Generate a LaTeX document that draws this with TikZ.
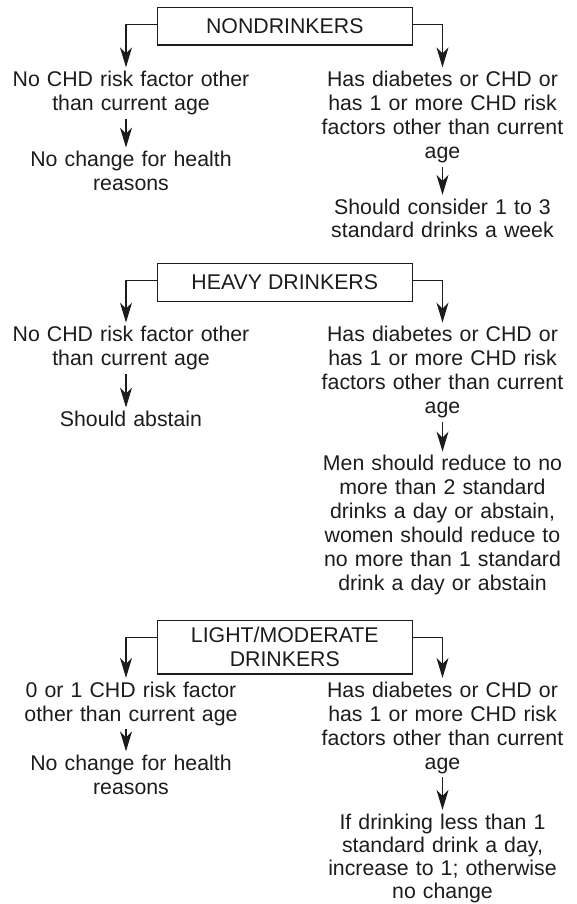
\documentclass[tikz,border=0pt]{standalone}
\usepackage{fontspec}
\setmainfont{Liberation Sans}
\usetikzlibrary{arrows.meta}
\definecolor{ink}{RGB}{30,27,28}

\begin{document}
\begin{tikzpicture}[x=1pt, y=-1pt,
    every node/.style={text=ink, font=\fontsize{21.3pt}{24pt}\selectfont},
    groupbox/.style={draw=ink, line width=1.3pt, minimum width=255pt, inner sep=0pt, align=center},
    advice/.style={anchor=base, align=center, inner xsep=0pt, inner ysep=3.5pt},
    leftcol/.style={advice, text width=246pt},
    rightcol/.style={advice, text width=260pt},
    flow/.style={draw=ink, line width=1.2pt, -{Stealth[length=20pt, width=12pt, inset=6pt]}}]
  \useasboundingbox (0, 0) rectangle (576, 904);

  %% NONDRINKERS
  \node[groupbox, minimum height=37.7pt] (non) at (284.8, 26.2) {NONDRINKERS};
  \node[leftcol] (nonL) at (131, 86.5) {No CHD risk factor other\\than current age};
  \node[leftcol] (nonLout) at (131, 166.7) {No change for health\\reasons};
  \node[rightcol] (nonR) at (442.5, 86.5)
    {Has diabetes or CHD or\\has 1 or more CHD risk\\factors other than current\\age};
  \node[rightcol] (nonRout) at (442.5, 214) {Should consider 1 to 3\\standard drinks a week};

  \draw[flow] ([yshift=-17.5pt]non.north west) -| ([xshift=-5pt]nonL.north);
  \draw[flow] ([yshift=-17.5pt]non.north east) -| (nonR.north);
  \draw[flow] ([xshift=-5pt]nonL.south) -- ([xshift=-5pt]nonLout.north);
  \draw[flow] (nonR.south) -- (nonRout.north);

  %% HEAVY DRINKERS
  \node[groupbox, minimum height=38.4pt] (heavy) at (284.8, 282.5) {HEAVY DRINKERS};
  \node[leftcol] (heavyL) at (131, 341.7) {No CHD risk factor other\\than current age};
  \node[leftcol] (heavyLout) at (131, 426.7) {Should abstain};
  \node[rightcol] (heavyR) at (442.5, 341.7)
    {Has diabetes or CHD or\\has 1 or more CHD risk\\factors other than current\\age};
  \node[rightcol] (heavyRout) at (442.5, 470.7)
    {Men should reduce to no\\more than 2 standard\\drinks a day or abstain,\\women should reduce to\\no more than 1 standard\\drink a day or abstain};

  \draw[flow] ([yshift=-17.5pt]heavy.north west) -| ([xshift=-5pt]heavyL.north);
  \draw[flow] ([yshift=-17.5pt]heavy.north east) -| (heavyR.north);
  \draw[flow] ([xshift=-5pt]heavyL.south) -- ([xshift=-5pt]heavyLout.north);
  \draw[flow] (heavyR.south) -- (heavyRout.north);

  %% LIGHT/MODERATE DRINKERS
  \node[groupbox, minimum height=53.3pt] (light) at (284.8, 647.3) {LIGHT/MODERATE\\DRINKERS};
  \node[leftcol] (lightL) at (131, 697) {0 or 1 CHD risk factor\\other than current age};
  \node[leftcol] (lightLout) at (131, 770.5) {No change for health\\reasons};
  \node[rightcol] (lightR) at (442.5, 697)
    {Has diabetes or CHD or\\has 1 or more CHD risk\\factors other than current\\age};
  \node[rightcol, font=\fontsize{21.3pt}{23.3pt}\selectfont] (lightRout) at (442.5, 829)
    {If drinking less than 1\\standard drink a day,\\increase to 1; otherwise\\no change};

  \draw[flow] ([yshift=-17.5pt]light.north west) -| ([xshift=-5pt]lightL.north);
  \draw[flow] ([yshift=-17.5pt]light.north east) -| (lightR.north);
  \draw[flow] ([xshift=-5pt]lightL.south) -- ([xshift=-5pt]lightLout.north);
  \draw[flow] (lightR.south) -- (lightRout.north);
\end{tikzpicture}
\end{document}
